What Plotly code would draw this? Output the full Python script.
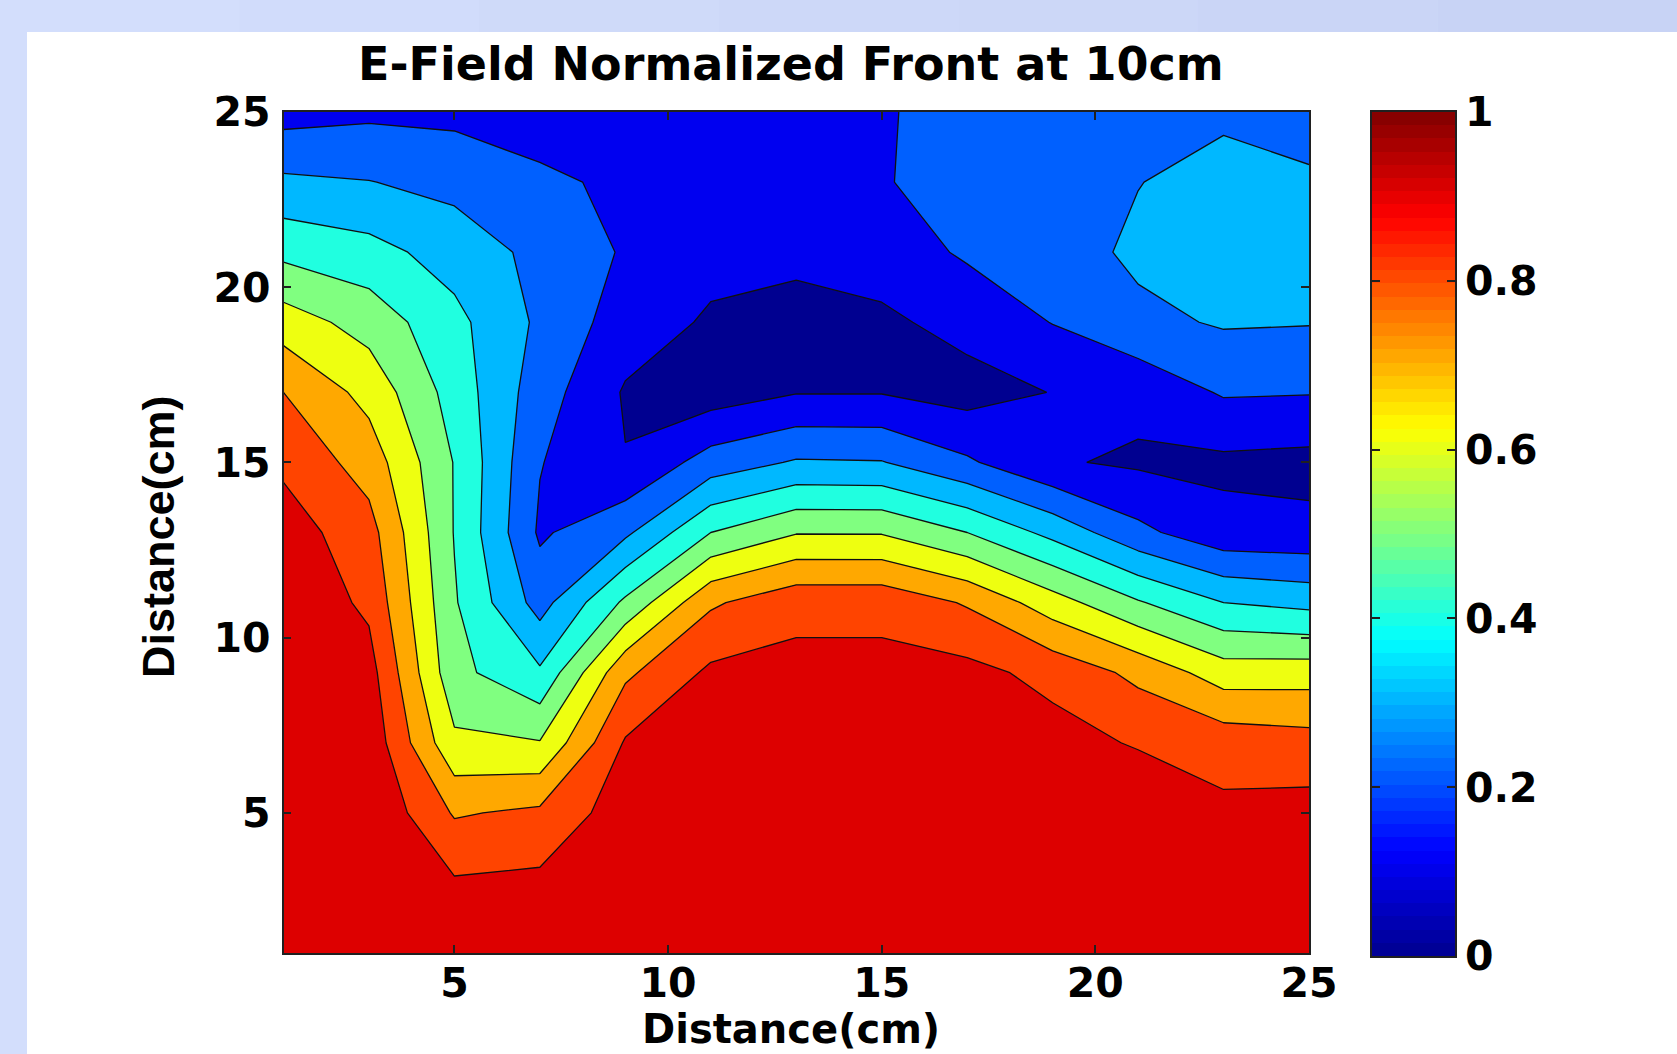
import plotly.graph_objects as go

# Measurement grid (cm)
x_cm = [1, 3, 5, 7, 9, 11, 13, 15, 17, 19, 21, 23, 25]
y_cm = [1, 3, 5, 7, 9, 11, 13, 15, 17, 19, 21, 23, 25]

# Normalized E-field, one row per y_cm value
row_y01 = [1.0, 1.0, .97, .98, 1.0, 1.0, 1.0, 1.0, 1.0, 1.0, 1.0, 1.0, 1.0]
row_y03 = [1.0, 1.0, .912, .923, .98, 1.0, 1.0, 1.0, 1.0, 1.0, 1.0, .97, .98]
row_y05 = [1.0, .99, .79, .82, .953, .99, 1.0, 1.0, .99, .98, .99, .92, .935]
row_y07 = [1.0, .97, .62, .606, .91, .97, .98, .98, .97, .94, .89, .86, .84]
row_y09 = [1.0, .94, .53, .415, .78, .92, .93, .93, .93, .87, .775, .65, .655]
row_y11 = [.98, .88, .51, .26, .52, .785, .87, .87, .79, .645, .51, .40, .37]
row_y13 = [.95, .839, .495, .185, .28, .50, .594, .593, .50, .37, .226, .13, .125]
row_y15 = [.88, .756, .495, .205, .104, .245, .31, .305, .215, .11, .085, .08, .07]
row_y17 = [.80, .667, .458, .247, .09, .05, .095, .095, .06, .103, .13, .21, .205]
row_y19 = [.65, .56, .428, .282, .15, .0875, .07, .08, .135, .203, .275, .31, .305]
row_y21 = [.475, .435, .358, .273, .19, .13, .12, .15, .213, .25, .321, .36, .35]
row_y23 = [.32, .303, .27, .23, .17, .14, .13, .193, .24, .26, .297, .34, .31]
row_y25 = [.16, .18, .174, .123, .14, .13, .13, .19, .24, .26, .27, .28, .27]
field = [row_y01, row_y03, row_y05, row_y07, row_y09, row_y11, row_y13,
         row_y15, row_y17, row_y19, row_y21, row_y23, row_y25]

title_text = "E-Field Normalized Front at 10cm"
axis_label = "Distance(cm)"
axis_ticks = [5, 10, 15, 20, 25]
bar_ticks = [0, 0.2, 0.4, 0.6, 0.8, 1]
bar_tick_labels = ["0", "0.2", "0.4", "0.6", "0.8", "1"]

# Band colours, lowest band first (each band takes the jet colour of its lower level)
band_colors = ["#000090", "#0000f0", "#0060ff", "#00b8ff", "#20ffe0",
               "#80ff80", "#eeff10", "#ffa800", "#ff4400", "#dd0000"]
jet = [[0, "#00008f"], [0.125, "#0000ff"], [0.375, "#00ffff"],
       [0.625, "#ffff00"], [0.875, "#ff0000"], [1, "#800000"]]
# Slide background: top strip darkens slightly towards the right
strip_colors = ["#d3defc", "#d1dcfb", "#cfdaf9", "#cdd8f8", "#ccd7f7", "#cad5f6", "#c8d3f5"]

W, H = 1677, 1054
WIDE = "DejaVu Sans"
NARROW = "Liberation Sans"
TICK_SIZE = 41

band_scale = []
for i, c in enumerate(band_colors):
    band_scale.append([i / 10, c])
    band_scale.append([(i + 1) / 10, c])

bar_cells = 64
bar_values = [(i + 0.5) / bar_cells for i in range(bar_cells)]

fig = go.Figure()
fig.add_trace(go.Contour(
    x=x_cm, y=y_cm, z=field, zmin=0, zmax=1, colorscale=band_scale, showscale=False,
    autocontour=False,
    contours=dict(start=0.1, end=0.9, size=0.1, coloring="fill"),
    line=dict(color="#101010", width=1.3, smoothing=0),
    hoverinfo="skip",
))
fig.add_trace(go.Heatmap(
    x=[0], y=bar_values, z=[[v] for v in bar_values], zmin=0, zmax=1,
    colorscale=jet, showscale=False, xaxis="x2", yaxis="y2", hoverinfo="skip",
))

axis_style = dict(
    showgrid=False, zeroline=False, showline=True, linecolor="#202020", linewidth=1.5,
    mirror="ticks", ticks="inside", ticklen=8, tickcolor="#202020", tickwidth=1.5,
    automargin=False,
    tickfont=dict(family=WIDE, size=TICK_SIZE, color="black", weight="bold"),
)
shapes = [dict(type="rect", xref="paper", yref="paper", layer="below",
               x0=i / len(strip_colors), x1=(i + 1) / len(strip_colors),
               y0=1 - 32 / H, y1=1, fillcolor=c, line_width=0)
          for i, c in enumerate(strip_colors)]
shapes.append(dict(type="rect", xref="paper", yref="paper", layer="below",
                   x0=27 / W, x1=1.0, y0=0, y1=1 - 32 / H,
                   fillcolor="white", line_width=0))

fig.update_layout(
    width=W, height=H, margin=dict(l=0, r=0, t=0, b=0, autoexpand=False), autosize=False,
    paper_bgcolor="#d3defc", plot_bgcolor="white", showlegend=False,
    font=dict(family=WIDE, color="black"),
    shapes=shapes,
    xaxis=dict(axis_style, domain=[283.5 / W, 1309 / W], range=[1, 25], tickvals=axis_ticks,
               ticktext=[str(t) for t in axis_ticks], anchor="y", ticklabelstandoff=-7),
    yaxis=dict(axis_style, domain=[1 - 953 / H, 1 - 112 / H], range=[1, 25], tickvals=axis_ticks,
               ticktext=[str(t) for t in axis_ticks], anchor="x", ticklabelstandoff=3),
    xaxis2=dict(domain=[1372 / W, 1455 / W], range=[-0.5, 0.5], showticklabels=False,
                ticks="", showgrid=False, zeroline=False, showline=True, mirror=True,
                linecolor="#202020", linewidth=1.5, anchor="y2", automargin=False),
    yaxis2=dict(axis_style, domain=[1 - 956 / H, 1 - 112 / H], range=[0, 1], side="right",
                tickvals=bar_ticks, ticktext=bar_tick_labels, anchor="x2", mirror="ticks"),
    annotations=[
        dict(text=title_text, xref="paper", yref="paper", x=791 / W, y=1 - 64 / H,
             xanchor="center", yanchor="middle", showarrow=False,
             font=dict(family=WIDE, size=46, color="black", weight="bold")),
        dict(text=axis_label, xref="paper", yref="paper", x=791 / W, y=1 - 1029 / H,
             xanchor="center", yanchor="middle", showarrow=False,
             font=dict(family=WIDE, size=40, color="black", weight="bold")),
        dict(text=axis_label, xref="paper", yref="paper", x=158 / W, y=1 - 537 / H,
             xanchor="center", yanchor="middle", showarrow=False, textangle=-90,
             font=dict(family=NARROW, size=45, color="black", weight="bold")),
    ],
)

fig.write_html("out.html", config=dict(displayModeBar=False),
               post_script="document.body.style.margin='0';")
